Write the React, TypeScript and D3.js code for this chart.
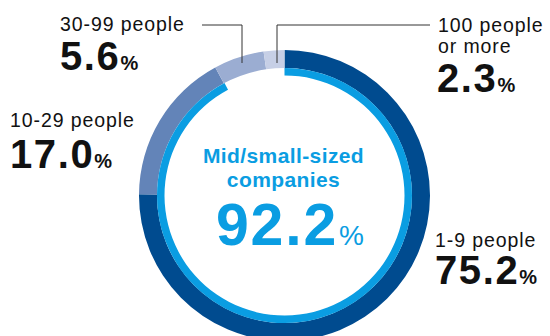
import React from "react";
import * as d3 from "d3";

const categories = ["1-9 people", "10-29 people", "30-99 people", "100 people or more"];
const shares = [75.2, 17.0, 5.6, 2.3];
const segmentColors = ["#004b8f", "#6384b8", "#9badd2", "#c6cfe6"];
const midSmallShare = 92.2;
const centerTitle = ["Mid/small-sized", "companies"];

const W = 550;
const H = 336;
const cx = 284.5;
const cy = 195.5;
const rOuter = 145.5;
const rMid = 127.5;
const rInner = 120;
const LIGHT = "#0a9de2";
const FONT = "'Liberation Sans', Arial, Helvetica, sans-serif";

export default function App() {
  const pie = d3
    .pie<number>()
    .sort(null)
    .value((d) => d)
    .startAngle(0)
    .endAngle(2 * Math.PI);
  const arcs = pie(shares);
  const arcGen = d3.arc<d3.PieArcDatum<number>>().innerRadius(rMid).outerRadius(rOuter);
  const angle = d3.scaleLinear().domain([0, 100]).range([0, 2 * Math.PI]);
  const innerArc = d3
    .arc()
    .innerRadius(rInner)
    .outerRadius(rMid)
    .startAngle(angle(0))
    .endAngle(angle(midSmallShare));

  const labelStyle = { fontFamily: FONT, fill: "#111" };
  const lab = (x: number, y: number, t: string) => (
    <text x={x} y={y} fontSize={19.5} letterSpacing={0.9} style={labelStyle}>{t}</text>
  );
  const pct = (x: number, y: number, val: string) => (
    <text x={x} y={y} style={labelStyle}>
      <tspan fontSize={40} fontWeight="bold" letterSpacing={1.6}>{val}</tspan>
      <tspan fontSize={20} fontWeight="bold" dx={0}>%</tspan>
    </text>
  );

  return (
    <svg width={W} height={H} style={{ position: "absolute", left: 0, top: 0, display: "block" }}>
      <g transform={`translate(${cx},${cy})`}>
        {arcs.map((a, i) => (
          <path key={categories[i]} d={arcGen(a) || ""} fill={segmentColors[i]} />
        ))}
        <path d={(innerArc as any)() || ""} fill={LIGHT} />
      </g>
      {/* leader lines */}
      <polyline points="202,25 242,25 242,63" fill="none" stroke="#333" strokeWidth={1} />
      <polyline points="430,25 277,25 277,63" fill="none" stroke="#333" strokeWidth={1} />

      {/* center text */}
      <text x={283.5} y={163} textAnchor="middle" fontFamily={FONT} fontWeight="bold" fontSize={21} letterSpacing={0.4} fill={LIGHT}>
        {centerTitle[0]}
      </text>
      <text x={283.5} y={187} textAnchor="middle" fontFamily={FONT} fontWeight="bold" fontSize={21} letterSpacing={0.4} fill={LIGHT}>
        {centerTitle[1]}
      </text>
      <text x={216} y={245} fontFamily={FONT} fill={LIGHT}>
        <tspan fontSize={59} fontWeight="bold" letterSpacing={1.8}>{midSmallShare.toFixed(1)}</tspan>
        <tspan fontSize={28} dx={1}>%</tspan>
      </text>

      {/* labels */}
      {lab(60, 31, categories[2])}
      {pct(60, 70, shares[2].toFixed(1))}

      {lab(438, 32, "100 people")}
      {lab(438, 53, "or more")}
      {pct(437, 92, shares[3].toFixed(1))}

      {lab(10, 127, categories[1])}
      {pct(10, 168, shares[1].toFixed(1))}

      {lab(435, 247, categories[0])}
      {pct(435, 284, shares[0].toFixed(1))}
    </svg>
  );
}
